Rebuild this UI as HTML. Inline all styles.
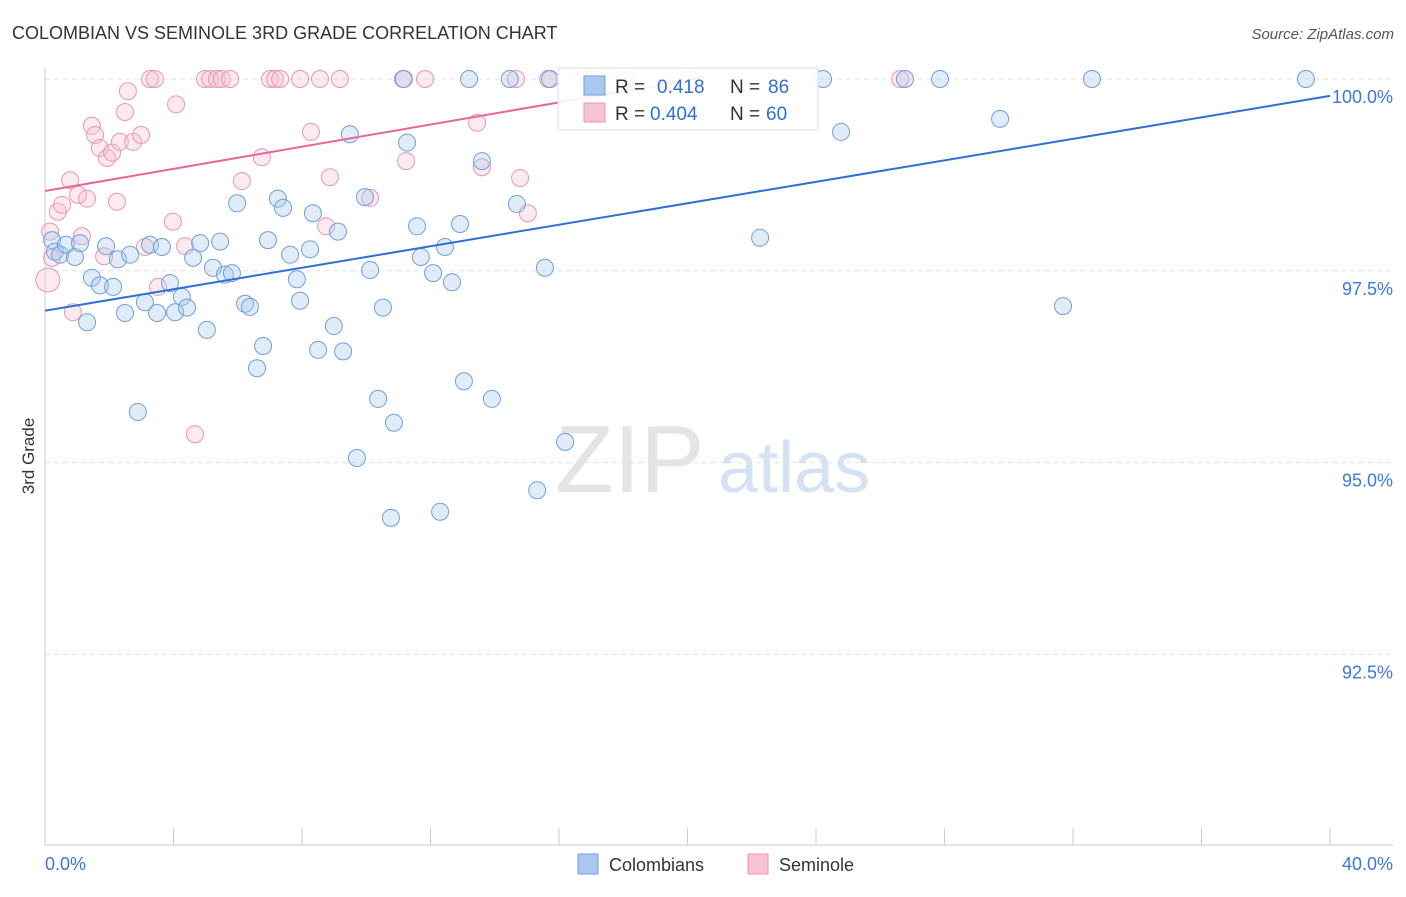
<!DOCTYPE html>
<html><head><meta charset="utf-8"><style>
body{margin:0;background:#fff;font-family:"Liberation Sans",sans-serif}
svg text{font-family:"Liberation Sans",sans-serif}
</style></head><body>
<svg id="chart" width="1406" height="892" xmlns="http://www.w3.org/2000/svg">
<text x="12" y="39" font-size="18" fill="#333">COLOMBIAN VS SEMINOLE 3RD GRADE CORRELATION CHART</text>
<text x="1394" y="39" font-size="15" fill="#555" text-anchor="end" font-style="italic">Source: ZipAtlas.com</text>
<text x="34" y="456" font-size="17" fill="#333" text-anchor="middle" transform="rotate(-90 34 456)">3rd Grade</text>
<g><text x="555" y="492" font-size="96" fill="#e4e4e4" font-family="Liberation Serif">ZIP</text><text x="718" y="492" font-size="72" fill="#d5e2f3">atlas</text></g>
<g id="grid"></g><g id="axes"></g><g id="pts"></g><g id="trends"></g>
<g>
<rect x="558" y="68" width="260" height="62" fill="#fff" fill-opacity="0.9" stroke="#ddd"/>
<rect x="584" y="76" width="21" height="19" fill="#aac8ee" stroke="#6f9fdc"/>
<text x="615" y="93" font-size="19" fill="#333">R = </text><text x="657" y="93" font-size="19" fill="#2e6fd6">0.418</text>
<text x="730" y="93" font-size="19" fill="#333">N = </text><text x="768" y="93" font-size="19" fill="#2e6fd6">86</text>
<rect x="584" y="103" width="21" height="19" fill="#f7c2d3" stroke="#e996b2"/>
<text x="615" y="120" font-size="19" fill="#333">R = </text><text x="650" y="120" font-size="19" fill="#2e6fd6">0.404</text>
<text x="730" y="120" font-size="19" fill="#333">N = </text><text x="766" y="120" font-size="19" fill="#2e6fd6">60</text>
</g>
<g>
<rect x="578" y="854" width="20" height="20" fill="#aac8ee" stroke="#6f9fdc"/>
<text x="609" y="871" font-size="18" fill="#333">Colombians</text>
<rect x="748" y="854" width="20" height="20" fill="#f7c2d3" stroke="#e996b2"/>
<text x="779" y="871" font-size="18" fill="#333">Seminole</text>
</g>
</svg>
<script>
const xTicks=[0,4,8,12,16,20,24,28,32,36,40];
const yTicks=[92.5,95,97.5,100];
const yTickLabels=["92.5%","95.0%","97.5%","100.0%"];
const blueX=[0.22,0.31,0.47,0.65,0.93,1.09,1.31,1.46,1.71,1.90,2.12,2.27,2.49,2.65,2.89,3.11,3.27,3.49,3.64,3.89,4.05,4.26,4.42,4.61,4.83,5.04,5.23,5.45,5.60,5.82,5.98,6.23,6.38,6.60,6.79,6.94,7.25,7.41,7.63,7.84,7.94,8.25,8.34,8.50,8.99,9.12,9.28,9.49,9.71,9.96,10.12,10.37,10.52,10.77,10.86,11.17,11.27,11.58,11.70,12.08,12.30,12.45,12.67,12.92,13.04,13.20,13.60,13.91,14.47,14.69,15.32,15.56,15.72,16.19,17.03,22.26,24.22,24.78,26.77,27.86,29.73,31.69,32.59,39.25];
const blueY=[97.90,97.75,97.71,97.84,97.68,97.86,96.83,97.41,97.31,97.82,97.29,97.65,96.95,97.71,95.66,97.09,97.84,96.95,97.81,97.34,96.96,97.16,97.02,97.67,97.86,96.73,97.54,97.88,97.45,97.47,98.38,97.07,97.03,96.23,96.52,97.90,98.44,98.32,97.71,97.39,97.11,97.78,98.25,96.47,96.78,98.01,96.45,99.28,95.06,98.46,97.51,95.83,97.02,94.28,95.52,100,99.17,98.08,97.68,97.47,94.36,97.81,97.35,98.11,96.06,100,98.93,95.83,100,98.37,94.64,97.54,100,95.27,100,97.93,100,99.31,100,100,99.48,97.04,100,100];
const pinkX=[0.09,0.16,0.22,0.40,0.53,0.78,0.87,1.03,1.15,1.31,1.46,1.56,1.71,1.84,1.93,2.09,2.24,2.33,2.49,2.58,2.74,2.99,3.11,3.27,3.42,3.52,3.98,4.08,4.36,4.67,4.98,5.14,5.35,5.51,5.76,6.13,6.75,7.00,7.16,7.32,7.94,8.28,8.56,8.75,8.87,9.18,10.12,11.14,11.24,11.83,13.45,13.60,14.66,14.79,15.03,15.66,16.75,18.05,20.08,26.62];
const pinkY=[97.38,98.01,97.67,98.27,98.36,98.68,96.96,98.49,97.95,98.44,99.39,99.27,99.10,97.69,98.97,99.04,98.40,99.18,99.57,99.84,99.18,99.27,97.81,100,100,97.29,98.14,99.67,97.82,95.37,100,100,100,100,100,98.67,98.98,100,100,100,100,99.31,100,98.08,98.72,100,98.45,100,98.93,100,99.43,98.85,100,98.71,98.25,100,100,100,100,100];
const blueTrend=[96.98,99.78];
const pinkTrend=[98.54,100.02];
const pinkTrendEnd=20.5;
const NS="http://www.w3.org/2000/svg";
const X=v=>45+v/40*1285, Y=v=>79+(100-v)*76.72;
function mk(t,a,p){const e=document.createElementNS(NS,t);for(const k in a)e.setAttribute(k,a[k]);p.appendChild(e);return e;}
const g=document.getElementById('grid'),ax=document.getElementById('axes');
yTicks.forEach((t,i)=>{const l=mk('line',{x1:45,x2:1393,y1:Y(t),y2:Y(t),stroke:'#e2e2e2','stroke-dasharray':'5,4'},g);


const tx=mk('text',{x:1393,y:Y(t)+24,'font-size':18,fill:'#3b78d8','text-anchor':'end'},ax);tx.textContent=yTickLabels[i];

});
mk('line',{x1:45,x2:45,y1:68,y2:845,stroke:'#ccc'},ax);
mk('line',{x1:45,x2:1393,y1:845,y2:845,stroke:'#ccc'},ax);
xTicks.forEach(t=>{const l=mk('line',{x1:X(t),x2:X(t),y1:828,y2:845,stroke:'#ccc'},ax);

});
let t0=mk('text',{x:45,y:870,'font-size':18,fill:'#3b78d8'},ax);t0.textContent='0.0%';


let t1=mk('text',{x:1393,y:870,'font-size':18,fill:'#3b78d8','text-anchor':'end'},ax);t1.textContent='40.0%';


const P=document.getElementById('pts');
function pts(xs,ys,fill,stroke,name){xs.forEach((x,i)=>{const c=mk('circle',{cx:X(x),cy:Y(ys[i]),r:(x<0.12?12:8.5),fill:fill,'fill-opacity':0.35,stroke:stroke,'stroke-width':1},P);

});}
pts(pinkX,pinkY,'#f7c2d3','#e996b2','seminole-point');
pts(blueX,blueY,'#aac8ee','#6f9fdc','colombian-point');
const T=document.getElementById('trends');
const bl=mk('line',{x1:X(0),y1:Y(blueTrend[0]),x2:X(40),y2:Y(blueTrend[1]),stroke:'#2e6fd6','stroke-width':2},T);


const pl=mk('line',{x1:X(0),y1:Y(pinkTrend[0]),x2:X(pinkTrendEnd),y2:Y(pinkTrend[1]),stroke:'#e8669a','stroke-width':2},T);


</script>
</body></html>
